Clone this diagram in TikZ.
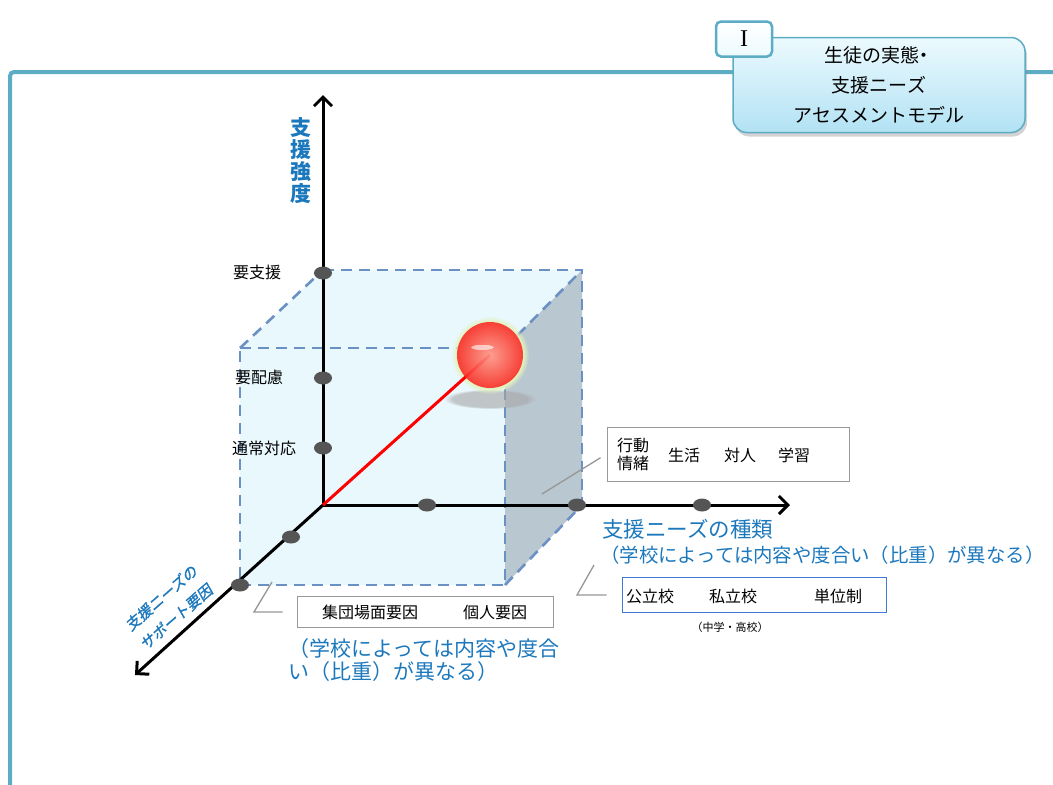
\documentclass[tikz,border=0pt]{standalone}
\usepackage{fontspec}
\setmainfont{Noto Sans CJK JP}
\newfontfamily\romanfont{Liberation Serif}
\newfontfamily\slantfont{Noto Sans CJK JP}[FakeSlant=0.2,FakeBold=1.2]
\usetikzlibrary{arrows.meta,shapes.geometric,shadows,fadings}

\definecolor{framecol}{RGB}{92,172,196}
\definecolor{labelblue}{RGB}{28,120,188}
\definecolor{edgeblue}{RGB}{106,144,196}
\definecolor{cubecol}{RGB}{233,248,253}
\definecolor{sidecol}{RGB}{185,199,208}
\definecolor{dotcol}{RGB}{85,85,85}
\definecolor{leadcol}{RGB}{150,150,150}
\definecolor{hdrtop}{RGB}{236,250,254}
\definecolor{hdrbot}{RGB}{178,226,244}
\definecolor{halocol}{RGB}{226,242,190}

\begin{document}
\begin{tikzpicture}[x=1pt, y=-1pt,
    every node/.style={inner sep=0pt},
    lbl/.style={font=\fontsize{16}{18}\selectfont},
    note/.style={text=labelblue, anchor=west},
    slant/.style={text=labelblue, rotate=41, font=\slantfont\fontsize{15}{18}\selectfont},
    dot/.style={ellipse, fill=dotcol, minimum width=18pt, minimum height=13pt},
    axis/.style={line width=3pt, -{Straight Barb[length=9pt,width=18pt]}},
    edge/.style={edgeblue, line width=2.6pt, dash pattern=on 11pt off 7pt},
    leader/.style={leadcol, line width=1.3pt}]
  \useasboundingbox (0,0) rectangle (1053,785);

  % outer frame
  \draw[framecol, line width=4pt, rounded corners=4pt] (10,785) -- (10,72) -- (1053,72);

  % title card with number tab
  \node[draw=framecol, line width=1.5pt, rounded corners=14pt,
        top color=hdrtop, bottom color=hdrbot,
        drop shadow={shadow xshift=2pt, shadow yshift=-4pt, opacity=0.35},
        minimum width=292pt, minimum height=95pt, align=center,
        font=\fontsize{19}{30}\selectfont] (title) at (879,85)
        {生徒の実態\kern-0.25em・\\支援ニーズ\\アセスメントモデル};
  \node[draw=framecol, line width=2.5pt, rounded corners=5pt,
        top color=white, bottom color=hdrtop,
        minimum width=56pt, minimum height=35pt,
        font=\romanfont\fontsize{24}{24}\selectfont] (tabno) at (744,39) {I};

  % cube corners
  \coordinate (O)  at (323,505);
  \coordinate (b1) at (323,270);
  \coordinate (b2) at (582,270);
  \coordinate (b3) at (582,505);
  \coordinate (f1) at (240,348);
  \coordinate (f2) at (505,348);
  \coordinate (f3) at (505,585);
  \coordinate (f4) at (240,585);

  \fill[cubecol] (f1) -- (b1) -- (b2) -- (b3) -- (f3) -- (f4) -- cycle;
  \fill[sidecol] (f2) -- (b2) -- (b3) -- (f3) -- cycle;
  \draw[edge] (b1) -- (b2) -- (b3);
  \draw[edge] (f1) -- (f2) -- (f3) -- (f4) -- cycle;
  \draw[edge] (f1) -- (b1);
  \draw[edge] (f2) -- (b2);
  \draw[edge] (f3) -- (b3);

  % axes
  \coordinate (ytip) at (323,95);
  \coordinate (xtip) at (790,505);
  \coordinate (ztip) at (135,675);
  \draw[axis] (O) -- (ytip);
  \draw[axis] (O) -- (xtip);
  \draw[axis] (O) -- (ztip);

  \node[dot] (y1) at (323,273) {};
  \node[dot] (y2) at (323,378) {};
  \node[dot] (y3) at (323,448) {};
  \node[dot] (x1) at (427,505) {};
  \node[dot] (x2) at (577,505) {};
  \node[dot] (x3) at (702,505) {};
  \node[dot] (z1) at (291,537) {};
  \node[dot] (z2) at (240,585) {};

  \node[lbl] (need) at (257,272) {要支援};
  \node[lbl] (care) at (259,377) {要配慮};
  \node[lbl] (usual) at (264,448) {通常対応};

  \node[text=labelblue, align=center, font=\fontsize{21}{22}\bfseries] (ylabel) at (301,161)
       {支\\援\\強\\度};
  \node[slant] (zlabel) at (161,598) {支援ニーズの};
  \node[slant] (zlabelb) at (176,617) {サポート要因};

  % position ball
  \node[circle, minimum size=66pt] (ball) at (490,355) {};
  \fill[gray!70, opacity=0.6, path fading=circle with fuzzy edge 20 percent] (490,399) ellipse (46 and 10);
  \fill[halocol, path fading=circle with fuzzy edge 15 percent] (ball.center) circle (39);
  \draw[red, line width=3pt] (O) -- (ball.center);
  \shade[inner color={rgb,255:red,255;green,150;blue,140}, outer color={rgb,255:red,250;green,45;blue,40},
         opacity=0.9] (ball.center) circle (33);
  \fill[white, opacity=0.6, path fading=circle with fuzzy edge 15 percent] (482,347) ellipse (12 and 3);

  % boxes
  \node[draw=gray!80, line width=1pt, fill=white, minimum width=242pt, minimum height=54pt] (behav) at (728,454) {};
  \node[lbl, align=center] (emo) at (633,454) {行動\\情緒};
  \node[lbl] (life) at (684,455) {生活};
  \node[lbl] (rel) at (740,455) {対人};
  \node[lbl] (study) at (794,455) {学習};

  \node[draw=framecol!70!blue, line width=1pt, fill=white, minimum width=264pt, minimum height=35pt] (schools) at (754,595) {};
  \node[lbl] (pub) at (650,596) {公立校};
  \node[lbl] (priv) at (733,596) {私立校};
  \node[lbl] (credit) at (838,596) {単位制};
  \node[font=\fontsize{11}{12}\selectfont] (grade) at (730,627) {（中学・高校）};

  \node[draw=gray!80, line width=1pt, fill=white, minimum width=256pt, minimum height=31pt] (group) at (425,612) {};
  \node[lbl] (scene) at (370,612) {集団場面要因};
  \node[lbl] (self) at (495,612) {個人要因};

  % notes
  \node[note, font=\fontsize{21.5}{24}\selectfont] (kind) at (602,529) {支援ニーズの種類};
  \node[note, font=\fontsize{19.4}{24}\selectfont] (kindsub) at (600,555) {（学校によっては内容や度合い（比重）が異なる）};
  \node[note, font=\fontsize{21}{23}\selectfont, align=left] (groupsub) at (288,660)
       {（学校によっては内容や度合\\い（比重）が異なる）};

  % leader lines
  \coordinate (l1) at (542,494);
  \coordinate (l2) at (594,565);
  \coordinate (l3) at (272,582);
  \draw[leader, shorten >=7pt] (l1) -- (behav.west);
  \draw[leader, shorten >=15pt] (l2) -- (577,595) -- (schools.west);
  \draw[leader, shorten >=14pt] (l3) -- (254,612) -- (group.west);
\end{tikzpicture}
\end{document}
